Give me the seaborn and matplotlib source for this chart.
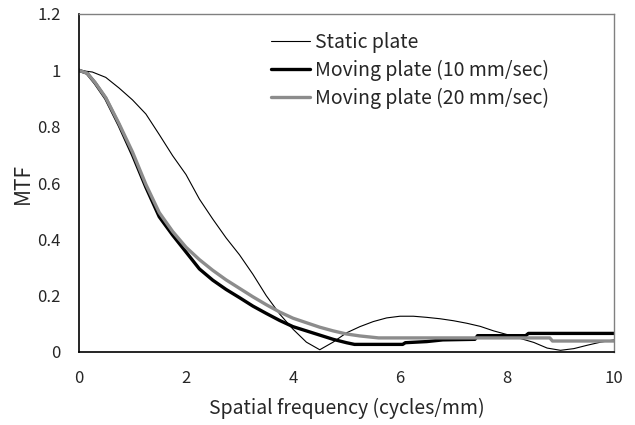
import pandas as pd
import matplotlib
matplotlib.use("Agg")
import matplotlib.pyplot as plt
import seaborn as sns

# Static plate MTF
freq_static = [0, 0.25, 0.5, 0.75, 1.0, 1.25, 1.5, 1.75, 2.0, 2.25, 2.5, 2.75, 3.0,
               3.25, 3.5, 3.75, 4.0, 4.25, 4.5, 4.75, 5.0, 5.25, 5.5, 5.75, 6.0,
               6.25, 6.5, 6.75, 7.0, 7.25, 7.5, 7.75, 8.0, 8.25, 8.5, 8.75, 9.0,
               9.25, 9.5, 9.75, 10.0]
mtf_static = [1.0, 0.994, 0.975, 0.937, 0.895, 0.845, 0.772, 0.697, 0.63, 0.543,
              0.472, 0.405, 0.345, 0.276, 0.2, 0.135, 0.081, 0.035, 0.008, 0.035,
              0.068, 0.09, 0.108, 0.121, 0.127, 0.127, 0.123, 0.118, 0.111, 0.102,
              0.091, 0.075, 0.062, 0.048, 0.034, 0.014, 0.006, 0.012, 0.024, 0.035,
              0.043]

# Moving plate, 10 mm/sec
freq_10 = [0, 0.15, 0.3, 0.5, 0.75, 1.0, 1.25, 1.5, 1.75, 2.0, 2.25, 2.5, 2.75, 3.0,
           3.25, 3.5, 3.75, 4.0, 4.25, 4.5, 4.75, 5.0, 5.15, 6.05, 6.1, 6.5, 6.8,
           7.4, 7.45, 8.35, 8.4, 10.0]
mtf_10 = [1.0, 0.99, 0.955, 0.9, 0.805, 0.7, 0.585, 0.48, 0.415, 0.355, 0.295,
          0.255, 0.222, 0.193, 0.163, 0.137, 0.112, 0.09, 0.075, 0.06, 0.045, 0.033,
          0.027, 0.027, 0.033, 0.037, 0.043, 0.045, 0.058, 0.058, 0.066, 0.066]

# Moving plate, 20 mm/sec
freq_20 = [0, 0.15, 0.3, 0.5, 0.75, 1.0, 1.25, 1.5, 1.75, 2.0, 2.25, 2.5, 2.75, 3.0,
           3.25, 3.5, 3.75, 4.0, 4.25, 4.5, 4.75, 5.0, 5.25, 5.5, 5.6, 8.8, 8.85, 10.0]
mtf_20 = [1.0, 0.99, 0.957, 0.903, 0.81, 0.71, 0.595, 0.495, 0.428, 0.372, 0.328,
          0.29, 0.256, 0.226, 0.196, 0.168, 0.142, 0.12, 0.104, 0.088, 0.075, 0.064,
          0.057, 0.052, 0.05, 0.05, 0.039, 0.039]

labels = ['Static plate', 'Moving plate (10 mm/sec)', 'Moving plate (20 mm/sec)']

df = pd.concat([
    pd.DataFrame({'freq': freq_static, 'mtf': mtf_static, 'plate': labels[0]}),
    pd.DataFrame({'freq': freq_10, 'mtf': mtf_10, 'plate': labels[1]}),
    pd.DataFrame({'freq': freq_20, 'mtf': mtf_20, 'plate': labels[2]}),
])

sns.set_style("white")
plt.rcParams['font.family'] = ['Noto Sans CJK JP', 'DejaVu Sans']

fig = plt.figure(figsize=(6.35, 4.25), dpi=100)
ax = fig.add_axes([79 / 635, 1 - 352 / 425, 535 / 635, 338 / 425])

sns.lineplot(data=df, x='freq', y='mtf', hue='plate', size='plate',
             palette={labels[0]: 'black', labels[1]: 'black', labels[2]: '#8c8c8c'},
             sizes={labels[0]: 0.8, labels[1]: 2.4, labels[2]: 2.4},
             hue_order=labels, size_order=labels,
             sort=False, estimator=None, ax=ax)

ax.set_xlim(0, 10)
ax.set_ylim(0, 1.2)
ax.set_xticks([0, 2, 4, 6, 8, 10])
ax.set_yticks([0, 0.2, 0.4, 0.6, 0.8, 1.0, 1.2])
ax.set_yticklabels(['0', '0.2', '0.4', '0.6', '0.8', '1', '1.2'])
ax.tick_params(axis='x', direction='in', length=4, width=1, pad=13, labelsize=12)
ax.tick_params(axis='y', direction='out', length=4, width=1, pad=9, labelsize=12)

for side in ['left', 'bottom']:
    ax.spines[side].set_color('black')
    ax.spines[side].set_linewidth(1.2)
for side in ['top', 'right']:
    ax.spines[side].set_color('#808080')
    ax.spines[side].set_linewidth(1.0)

ax.set_xlabel('Spatial frequency (cycles/mm)', fontsize=14, labelpad=8)
ax.set_ylabel('MTF', fontsize=15)
ax.yaxis.set_label_coords(-0.085, 0.5)

leg = ax.legend(loc='upper left', bbox_to_anchor=(0.359, 0.947), frameon=False,
                fontsize=14, handlelength=2.0, handletextpad=0.25, labelspacing=0.35,
                borderpad=0, borderaxespad=0)

fig.savefig('out.png', dpi=100)
